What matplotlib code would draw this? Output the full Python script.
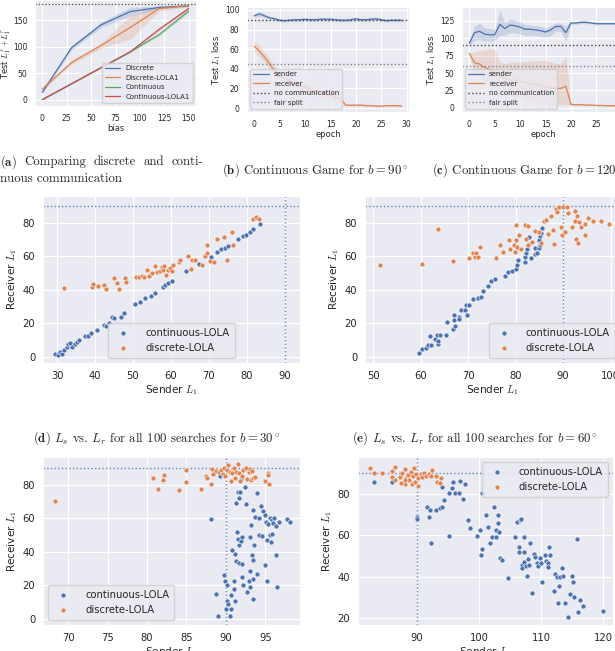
import numpy as np
import matplotlib.pyplot as plt
import seaborn as sns

sns.set_style("darkgrid")
plt.rcParams['mathtext.fontset'] = 'cm'

# ---- (a) discrete vs continuous ----
bias = [0, 30, 60, 90, 120, 150]
discrete = [14, 98, 141, 166, 174, 177]
discrete_err = [3, 4, 5, 8, 3, 2]
discrete_lola = [20, 70, 102, 136, 172, 177]
discrete_lola_err = [2, 4, 5, 22, 5, 2]
continuous = [0, 30, 60, 90, 123, 167]
continuous_err = [0.5, 0.5, 0.5, 1, 3, 3]
continuous_lola = [0, 30, 60, 90, 133, 172]
continuous_lola_err = [0.5, 0.5, 0.5, 1, 3, 3]

# ---- (b) b = 90 ----
epochs = list(range(30))
sender_b = [94, 96, 94, 92, 91, 89.5, 89, 89.5, 90, 90, 90.5, 90, 90, 90.5, 90.5,
            90.5, 90, 89.5, 89.5, 90, 91, 90, 90, 90.5, 91, 90, 89, 89.5, 89.5, 89.5]
sender_b_err = [2.5, 2.5, 2, 1.5, 1.5, 1.5, 1.5, 1.5, 1.5, 1.5, 1.5, 1.5, 1.5, 1.5, 1.5,
                1.5, 1.5, 1.5, 1.5, 1.5, 1.5, 1.5, 1.5, 1.5, 1.5, 1.5, 1.5, 1.5, 1.5, 1.5]
receiver_b = [63, 58, 52, 45, 38, 33, 30, 27, 25, 23, 21, 19, 17, 16, 14,
              13, 11, 9, 3, 3, 3, 3, 2.5, 2.5, 2, 2, 2.5, 2.5, 2.5, 2]
receiver_b_err = [6, 6, 5, 5, 5, 4, 4, 4, 4, 4, 4, 4, 4, 4, 4,
                  4, 4, 4, 1, 1, 1, 1, 1, 1, 1, 1, 1, 1, 1, 1]

# ---- (c) b = 120 ----
sender_c = [93, 108, 110, 106, 105, 105, 120, 114, 119, 118, 116, 113, 113, 112, 111,
            109, 112, 117, 117, 108, 122, 122, 123, 123, 122, 121, 121, 121, 121, 121]
sender_c_hi = [96, 118, 122, 115, 114, 113, 140, 122, 128, 126, 124, 120, 119, 118, 117,
               115, 118, 122, 122, 118, 124, 124, 125, 125, 123.5, 122.5, 122, 122, 122, 122]
sender_c_lo = [90, 97, 98, 96, 96, 97, 104, 104, 108, 108, 106, 104, 104, 104, 103,
               102, 104, 110, 110, 96, 120, 120, 121, 121, 120.5, 119.5, 120, 120, 120, 120]
receiver_c = [78, 65, 63, 58, 55, 52, 45, 42, 40, 40, 38, 36, 35, 34, 32,
              30, 29, 28, 28, 31, 5, 4.5, 4.5, 4, 4, 3.5, 3.5, 3, 3, 3]
receiver_c_hi = [80, 80, 82, 83, 85, 84, 66, 63, 65, 66, 66, 66, 67, 67, 68,
                 68, 66, 64, 64, 75, 7, 6, 5.5, 5, 5, 4.5, 4.5, 4, 4, 4]
receiver_c_lo = [75, 50, 45, 38, 30, 25, 25, 20, 18, 16, 14, 12, 10, 8, 6,
                 5, 4, 4, 4, 5, 3, 3, 3.5, 3, 3, 2.5, 2.5, 2, 2, 2]

# ---- (d) scatter b = 30 ----
d_cont_x = [29.4, 30.2, 30.7, 31.3, 31.8, 32.5, 33.0, 33.5, 34.0, 34.6, 35.3, 35.7, 37.4, 38.1,
            39.0, 40.5, 42.4, 43.0, 43.8, 44.4, 45.1, 46.8, 47.7, 50.6, 51.9, 53.2, 54.7, 55.8,
            57.8, 58.5, 59.1, 60.2, 64.1, 67.5, 70.5, 72.2, 73.3, 74.2, 75.1, 77.7, 78.9, 79.7,
            80.8, 81.7, 83.4]
d_cont_y = [2, 1, 3, 2, 4.4, 6, 7.6, 8.4, 6, 7.6, 9, 10, 12.4, 12.8,
            14, 16, 19, 18.4, 20, 23.6, 23, 24, 26, 31.6, 33, 35, 36.6, 38.4,
            41.6, 43, 44, 45.6, 51, 55.6, 59.6, 62.4, 64.4, 65, 66, 70.4, 72, 73,
            74.6, 76.4, 79.4]
d_disc_x = [31.8, 39.2, 39.5, 40.7, 42.4, 43.0, 45.1, 45.7, 46.4, 47.9, 48.2, 50.8, 51.7, 52.3,
            52.9, 53.6, 54.3, 54.9, 55.8, 56.3, 57.0, 57.6, 58.0, 58.3, 58.6, 59.3, 59.8, 60.2,
            60.6, 62.0, 62.4, 64.6, 65.2, 65.5, 66.3, 68.1, 68.9, 69.4, 69.4, 70.3, 71.3, 72.2,
            73.9, 74.8, 76.2, 76.4, 81.7, 82.4, 83.2]
d_disc_y = [41, 41.6, 43.6, 42.4, 43, 40.6, 47, 44, 40.4, 47, 45, 47.6, 47.6, 48.4,
            47.6, 52, 48.4, 50, 54.4, 50.4, 51, 53.6, 51.6, 54.4, 49, 52, 53, 51,
            55, 56.4, 58, 60.4, 52.4, 58, 57.6, 55, 60.4, 67, 62, 57, 56.4, 70.4,
            71.6, 58, 74.4, 67, 82.4, 83.4, 82.4]

# ---- (e) scatter b = 60 ----
e_cont_x = [59.7, 60.2, 61.1, 61.5, 62.0, 62.2, 63.0, 63.4, 63.6, 63.7, 64.1, 65.4, 65.5, 66.8,
            67.1, 67.1, 67.3, 68.0, 68.1, 68.5, 69.4, 69.5, 69.7, 70.1, 71.1, 72.0, 72.7, 73.1,
            74.3, 74.9, 75.6, 77.8, 78.4, 79.2, 80.1, 80.4, 80.6, 81.9, 82.0, 82.2, 82.4, 82.9,
            83.3, 83.5, 84.0, 84.2, 84.5, 84.9, 85.0, 85.2, 85.4, 85.6, 85.2, 82.9]
e_cont_y = [2.4, 4.9, 5.3, 7.3, 12.7, 7.3, 10.8, 13.3, 7.8, 9.8, 13.3, 13.3, 20.6, 16.7,
            24.9, 22, 18.6, 24.1, 22.5, 28, 28, 30.8, 24.9, 30.8, 34.3, 35.3, 35.9, 39.2,
            42.2, 45.1, 46.5, 48.4, 50.4, 51.4, 52.4, 54.9, 57.8, 56.9, 59.8, 61.8, 64.1, 67.3,
            58.8, 68.6, 61.4, 64.7, 62.2, 64.7, 70, 72, 73.9, 77.1, 66.7, 71.6]
e_disc_x = [51.5, 60.3, 63.7, 66.8, 70.3, 71.1, 71.5, 71.6, 72.0, 72.5, 75.8, 76.8, 77.3, 78.7,
            78.9, 79.6, 79.8, 80.0, 80.1, 80.4, 80.8, 81.2, 82.0, 82.2, 82.6, 82.7, 83.5, 84.0,
            84.9, 85.4, 85.9, 86.4, 86.8, 87.5, 87.8, 88.2, 88.5, 88.7, 89.2, 89.6, 89.8, 89.9,
            90.4, 90.8, 91.0, 91.8, 92.5, 92.6, 92.8, 93.0, 93.2, 93.3, 93.7, 94.6, 94.7, 95.3,
            96.3, 98.1, 99.7]
e_disc_y = [54.9, 55.5, 76.5, 57.5, 59.2, 62.2, 59.8, 62.2, 59.8, 65.3, 58.8, 66.7, 62.7, 70,
            64.1, 66.7, 62.7, 70, 78.8, 65.3, 72.5, 64.1, 78.8, 70.6, 78.4, 66.7, 68.6, 75.1,
            74.5, 68, 81, 81.4, 73.5, 84.3, 75.9, 67.3, 88.2, 86.3, 89.6, 77.8, 72.5, 89.2,
            74.5, 89.6, 85.7, 77.8, 87.3, 81, 70.6, 84.3, 68, 80.4, 77.5, 79.4, 72.9, 82.9,
            81, 81, 79.4]

# ---- (f) scatter b = 90 ----
f_cont_x = [89.2, 88.1, 88.8, 89.0, 89.8, 89.9, 90.0, 90.1, 90.2, 90.3, 90.5, 90.6, 90.6, 90.8,
            91.0, 91.0, 91.1, 91.2, 91.3, 91.3, 91.4, 91.5, 91.5, 91.6, 91.7, 91.7, 91.8, 91.9,
            91.9, 92.0, 92.0, 92.0, 92.2, 92.4, 92.6, 92.7, 92.9, 93.0, 93.0, 93.1, 93.2, 93.3,
            93.4, 93.4, 93.5, 93.5, 93.6, 93.7, 93.9, 93.9, 94.2, 94.2, 94.4, 94.6, 94.7, 95.0,
            95.0, 95.1, 95.2, 95.2, 95.3, 95.6, 95.6, 95.7, 95.8, 95.9, 96.0, 96.1, 96.3, 96.4,
            96.5, 96.7, 97.8, 98.1]
f_cont_y = [85, 59.6, 15, 2, 26.4, 22.4, 6, 11, 20, 9, 2, 14, 6, 41,
            18, 22.4, 11, 39, 69, 34.4, 52, 76, 47.6, 33.6, 72, 44, 76, 83.6,
            46.4, 49, 33, 25, 20, 79, 68.4, 16, 22.4, 28.4, 49, 19, 56, 38.4,
            65, 24, 35, 12, 44, 61, 75, 27, 60, 50, 67.6, 49.6, 64.4, 62,
            32, 57.6, 47, 22.4, 56.4, 50, 60, 46, 59, 50.4, 57, 60.4, 55.6, 38.4,
            19, 58, 59.6, 57.6]
f_disc_x = [68.3, 80.8, 81.4, 82.0, 82.1, 84.0, 85.0, 85.0, 86.9, 87.5, 87.6, 88.1, 88.2, 88.4,
            88.8, 89.1, 89.4, 89.6, 89.8, 89.9, 90.1, 90.3, 90.5, 90.6, 90.8, 91.0, 91.1, 91.3,
            91.5, 91.7, 91.8, 92.0, 92.2, 92.6, 92.7, 92.9, 93.0, 93.2, 93.3, 93.5, 93.7, 95.0,
            95.3, 95.5, 95.4]
f_disc_y = [70.4, 84, 77.4, 83, 85.6, 77, 89, 81.6, 77.4, 85, 84, 80.4, 89.4, 86.4,
            88, 87.6, 89, 86.4, 90, 85, 89, 92, 87.6, 82, 87, 90, 84, 87.6,
            92.4, 87, 82, 85, 89, 90, 83.6, 87.6, 89.6, 83, 88, 84, 84.4, 82.4,
            87, 80.4, 85.6]

# ---- (g) scatter b = 120 ----
g_cont_x = [83.1, 85.9, 90.0, 90.0, 91.7, 91.9, 92.1, 92.2, 93.1, 93.7, 94.0, 94.0, 94.4, 95.1,
            95.2, 95.7, 95.8, 96.2, 96.7, 96.9, 97.4, 97.7, 98.3, 98.5, 99.6, 100.1, 100.3, 100.5,
            100.5, 101.2, 101.4, 101.8, 102.1, 102.5, 102.7, 102.8, 103.0, 103.1, 103.2, 103.4,
            103.7, 104.6, 105.8, 106.2, 106.4, 106.4, 106.6, 106.8, 106.9, 107.0, 107.2, 107.2,
            107.3, 107.5, 107.7, 107.9, 108.1, 108.2, 108.5, 108.8, 109.0, 109.3, 109.5, 109.8,
            110.0, 110.2, 110.7, 110.8, 111.1, 111.2, 111.3, 111.5, 112.1, 112.2, 112.6, 112.7,
            112.9, 113.1, 113.3, 113.5, 113.9, 114.3, 114.6, 115.0, 115.1, 115.3, 115.8, 116.0,
            116.3, 116.7, 120.0]
g_cont_y = [85.9, 85.6, 68.7, 67.8, 73.6, 68.7, 72.3, 56.5, 72.3, 73.1, 73.9, 83.5, 77.1, 80.6,
            59.7, 82.7, 85.9, 80.6, 80.3, 86.4, 77.4, 84.7, 67.5, 63.4, 59.7, 62.6, 50.6, 53.3,
            80.6, 69.9, 63.9, 56.2, 59.1, 73.6, 59.1, 62.6, 69.9, 66.2, 61.8, 49,
            48.2, 39.6, 59.1, 66.7, 54.6, 52.2, 67.5, 67.8, 45.8, 44.1, 52.2, 59.4,
            47.4, 45.3, 40.4, 48.5, 45.8, 56.2, 32.4, 51.1, 49.8, 46.6, 45.3, 49,
            46.6, 37.7, 50.6, 47.8, 46.6, 45, 54.3, 50.6, 33.4, 41.4, 39.8, 27.6,
            35.6, 40.1, 44.1, 40.4, 27.3, 20.8, 31.8, 40.4, 37.7, 30.2, 58.1, 23.2,
            28.9, 26, 23.6]
g_disc_x = [82.5, 83.1, 84.3, 85.9, 86.5, 85.9, 87.2, 87.6, 88.0, 88.1, 88.3, 88.5, 88.8, 89.1,
            89.2, 89.4, 89.6, 89.7, 89.9, 90.1, 90.2, 90.6, 90.8, 91.2, 91.5, 91.9, 92.2, 92.4,
            93.0, 93.3, 93.7, 93.8, 88.0, 87.5, 86.4]
g_disc_y = [92.4, 90.3, 90.3, 91.1, 93.2, 88, 88, 90, 91.9, 84.8, 87.6, 89.2, 86.8, 90.8,
            84.8, 88.4, 92.4, 85.9, 89.6, 83.9, 87.6, 89.6, 88, 90.3, 88.4, 89.6, 88.7, 91.6,
            88.7, 85.9, 85.1, 87.6, 86.8, 85.1, 86.8]

BLUE, ORANGE, GREEN, RED = sns.color_palette("deep")[:4]
W, H = 615, 651

fig = plt.figure(figsize=(W / 100, H / 100), dpi=100)


def px_axes(l, t, r, b):
    return fig.add_axes([l / W, 1 - b / H, (r - l) / W, (b - t) / H])


def small_style(ax, fs=5.5):
    ax.tick_params(labelsize=fs, pad=2)
    ax.xaxis.label.set_size(fs + 0.5)
    ax.yaxis.label.set_size(fs + 0.5)
    ax.xaxis.labelpad = 1
    ax.yaxis.labelpad = 1


def band_line(ax, x, y, lo, hi, color, label):
    ax.fill_between(x, lo, hi, color=color, alpha=0.2, lw=0)
    ax.plot(x, y, color=color, lw=0.9, label=label)


# (a)
ax = px_axes(35, 0, 196, 106)
for y, e, c, lab in [(discrete, discrete_err, BLUE, "Discrete"),
                     (discrete_lola, discrete_lola_err, ORANGE, "Discrete-LOLA1"),
                     (continuous, continuous_err, GREEN, "Continuous"),
                     (continuous_lola, continuous_lola_err, RED, "Continuous-LOLA1")]:
    y = np.array(y); e = np.array(e)
    band_line(ax, bias, y, y - e, y + e, c, lab)
ax.axhline(180, color='0.3', ls=':', lw=0.9)
ax.set_ylim(-12, 188)
ax.set_xticks([0, 25, 50, 75, 100, 125, 150])
ax.set_yticks([0, 50, 100, 150])
ax.set_xlabel("bias")
ax.set_ylabel(r"Test $L_1^s + L_1^r$")
small_style(ax)
ax.yaxis.labelpad = 0
ax.legend(loc="lower right", fontsize=5, handlelength=2.2)


def game_panel(l, r, s, slo, shi, rc, rlo, rhi, nocomm, fair, ylim, yticks):
    ax = px_axes(l, 7, r, 112)
    band_line(ax, epochs, s, slo, shi, BLUE, "sender")
    band_line(ax, epochs, rc, rlo, rhi, ORANGE, "receiver")
    ax.axhline(nocomm, color='0.25', ls=':', lw=1.0, label="no communication")
    ax.axhline(fair, color='0.5', ls=':', lw=1.0, label="fair split")
    ax.set_xlim(-1.45, 30.45)
    ax.set_ylim(*ylim)
    ax.set_xticks([0, 5, 10, 15, 20, 25, 30])
    ax.set_yticks(yticks)
    ax.set_xlabel("epoch")
    ax.set_ylabel(r"Test $L_1$ loss")
    small_style(ax)
    ax.legend(loc="lower left", fontsize=5, handlelength=2.2)
    return ax


sb = np.array(sender_b); sbe = np.array(sender_b_err)
rb = np.array(receiver_b); rbe = np.array(receiver_b_err)
game_panel(247, 409, sb, sb - sbe, sb + sbe, rb, np.clip(rb - rbe, 0, None), rb + rbe,
           90, 45, (-4, 103), [0, 20, 40, 60, 80, 100])
game_panel(462, 624, sender_c, sender_c_lo, sender_c_hi, receiver_c, receiver_c_lo,
           receiver_c_hi, 90, 60, (-6, 145), [0, 25, 50, 75, 100, 125])


def scatter_panel(l, t, r, b, cx, cy, dx, dy, loc, xticks, yticks):
    ax = px_axes(l, t, r, b)
    ax.scatter(cx, cy, s=13, color=BLUE, edgecolor='white', linewidth=0.4,
               label="continuous-LOLA", zorder=3)
    ax.scatter(dx, dy, s=13, color=ORANGE, edgecolor='white', linewidth=0.4,
               label="discrete-LOLA", zorder=3)
    ax.axhline(90, color=BLUE, ls=':', lw=1.0, alpha=0.85, zorder=2)
    ax.axvline(90, color=BLUE, ls=':', lw=1.0, alpha=0.85, zorder=2)
    ax.set_xticks(xticks)
    ax.set_yticks(yticks)
    ax.set_xlabel(r"Sender $L_1$")
    ax.set_ylabel(r"Receiver $L_1$")
    ax.tick_params(labelsize=7.2, pad=2)
    ax.xaxis.label.set_size(7.6)
    ax.yaxis.label.set_size(7.6)
    ax.xaxis.labelpad = 2
    ax.yaxis.labelpad = 3
    ax.legend(loc=loc, fontsize=7.2, handletextpad=1.2, borderpad=0.5)
    return ax


ax = scatter_panel(43, 196, 300, 363, d_cont_x, d_cont_y, d_disc_x, d_disc_y,
                   "lower center", [30, 40, 50, 60, 70, 80, 90], [0, 20, 40, 60, 80])
ax.set_xlim(26.3, 94)
ax.set_ylim(-3.6, 96)
ax = scatter_panel(365, 196, 620, 363, e_cont_x, e_cont_y, e_disc_x, e_disc_y,
                   "lower right", [50, 60, 70, 80, 90, 100], [0, 20, 40, 60, 80])
ax.set_xlim(48.3, 102)
ax.set_ylim(-3.6, 96)
ax = scatter_panel(43, 457, 300, 625, f_cont_x, f_cont_y, f_disc_x, f_disc_y,
                   "lower left", [70, 75, 80, 85, 90, 95], [0, 20, 40, 60, 80])
ax.set_xlim(66.8, 99.4)
ax.set_ylim(-3.6, 96.6)
ax = scatter_panel(358, 457, 613, 625, g_cont_x, g_cont_y, g_disc_x, g_disc_y,
                   "upper right", [90, 100, 110, 120], [20, 40, 60, 80])
ax.set_xlim(80.5, 121.6)
ax.set_ylim(16.8, 97.8)

# captions; (a) is justified to the subfigure width in the source
cap = dict(family='cmr10', fontsize=9.2, va='center')
words = [r"$\mathbf{(a)}$", "Comparing", "discrete", "and", "conti-"]
texts = [fig.text(0, 1 - 162 / H, w, ha='left', **cap) for w in words]
renderer = fig.canvas.get_renderer()
widths = [t.get_window_extent(renderer).width for t in texts]
gap = (203 - sum(widths)) / (len(words) - 1)
xpos = 0.0
for t, w in zip(texts, widths):
    t.set_x(xpos / W)
    xpos += w + gap
fig.text(0 / W, 1 - 179 / H, "nuous communication", ha='left', **cap)
fig.text(222 / W, 1 - 170 / H, r"$\mathbf{(b)}$ Continuous Game for $b = 90^\circ$", ha='left', **cap)
fig.text(432 / W, 1 - 170 / H, r"$\mathbf{(c)}$ Continuous Game for $b = 120^\circ$", ha='left', **cap)
fig.text(157 / W, 1 - 438 / H,
         r"$\mathbf{(d)}$ $L_s$ vs. $L_r$ for all 100 searches for $b = 30^\circ$", ha='center', **cap)
fig.text(475 / W, 1 - 438 / H,
         r"$\mathbf{(e)}$ $L_s$ vs. $L_r$ for all 100 searches for $b = 60^\circ$", ha='center', **cap)

fig.savefig("out.png", dpi=100)
